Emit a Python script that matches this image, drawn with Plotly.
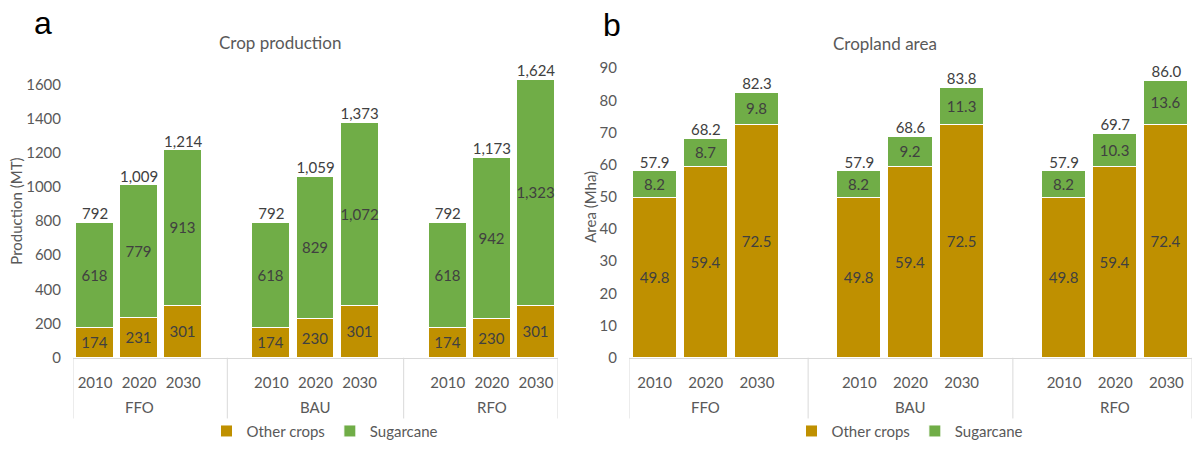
import plotly.graph_objects as go

# ---------------- data ----------------
scenarios = ["FFO", "BAU", "RFO"]
years = ["2010", "2020", "2030"]

prod_other = [174, 231, 301, 174, 230, 301, 174, 230, 301]
prod_sugar = [618, 779, 913, 618, 829, 1072, 618, 942, 1323]
prod_total = [792, 1009, 1214, 792, 1059, 1373, 792, 1173, 1624]

area_other = [49.8, 59.4, 72.5, 49.8, 59.4, 72.5, 49.8, 59.4, 72.4]
area_sugar = [8.2, 8.7, 9.8, 8.2, 9.2, 11.3, 8.2, 10.3, 13.6]
area_total = [57.9, 68.2, 82.3, 57.9, 68.6, 83.8, 57.9, 69.7, 86.0]

prod_ticks = [0, 200, 400, 600, 800, 1000, 1200, 1400, 1600]
area_ticks = [0, 10, 20, 30, 40, 50, 60, 70, 80, 90]

# ---------------- style ----------------
C_OTHER = "#BF9000"
C_SUGAR = "#70AD47"
FONT = "Lato"
TXT = "#404040"
AX = "#595959"
LINE = "#D9D9D9"
FS = 15
W, H = 1192, 450

def py(p):  # pixel y (from top) -> paper fraction
    return (H - p) / H

def px(p):
    return p / W

# category positions: a blank slot between scenario groups
pos = [g * 4 + i for g in range(len(scenarios)) for i in range(len(years))]
xlabels = [y for _ in scenarios for y in years]
group_centers = [g * 4 + 1 for g in range(len(scenarios))]
dividers = [-0.5] + [g * 4 - 1 for g in range(1, len(scenarios))] + [pos[-1] + 0.5]

fig = go.Figure()

def add_panel(other, sugar, total, xa, ya, legend, fmt):
    fig.add_trace(go.Bar(
        x=pos, y=other, name="Other crops", marker=dict(color=C_OTHER, line=dict(color="white", width=1)),
        width=0.86, text=other, texttemplate="%{y:" + fmt + "}", textposition="inside",
        insidetextanchor="middle", textangle=0, constraintext="none",
        textfont=dict(family=FONT, size=FS, color=TXT),
        xaxis=xa, yaxis=ya, legend=legend, showlegend=True))
    fig.add_trace(go.Bar(
        x=pos, y=sugar, name="Sugarcane", marker=dict(color=C_SUGAR, line=dict(color="white", width=1)),
        width=0.86, text=sugar, texttemplate="%{y:" + fmt + "}", textposition="inside",
        insidetextanchor="middle", textangle=0, constraintext="none",
        textfont=dict(family=FONT, size=FS, color=TXT),
        xaxis=xa, yaxis=ya, legend=legend, showlegend=True))
    fig.add_trace(go.Scatter(
        x=pos, y=total, mode="text", text=total, texttemplate="%{y:" + fmt + "}",
        textposition="top center", textfont=dict(family=FONT, size=FS, color=TXT),
        xaxis=xa, yaxis=ya, showlegend=False, hoverinfo="skip", cliponaxis=False))

add_panel(prod_other, prod_sugar, prod_total, "x", "y", "legend", ",")
add_panel(area_other, area_sugar, area_total, "x2", "y2", "legend2", ".1f")

y_bottom = py(364)
y_top = py(60)

common_x = dict(range=[-0.5, pos[-1] + 0.5], tickmode="array", tickvals=pos, ticktext=xlabels,
                showline=True, linecolor=LINE, linewidth=1, ticks="", showgrid=False, zeroline=False,
                tickfont=dict(family=FONT, size=FS, color=AX), ticklabelstandoff=11, fixedrange=True)
common_y = dict(showgrid=False, zeroline=False, showline=False, ticks="", tickmode="array",
                tickfont=dict(family=FONT, size=FS, color=AX), ticklabelstandoff=11)

leg = dict(orientation="h", xanchor="center", y=py(439), yanchor="middle", traceorder="normal",
           font=dict(family=FONT, size=FS, color=AX), itemwidth=30, bgcolor="rgba(0,0,0,0)")

fig.update_layout(
    width=W, height=H, barmode="stack", bargap=0,
    margin=dict(l=0, r=0, t=0, b=0),
    paper_bgcolor="white", plot_bgcolor="white",
    font=dict(family=FONT, color=AX),
    xaxis=dict(domain=[px(73), px(558)], anchor="y", **common_x),
    yaxis=dict(domain=[y_bottom, y_top], anchor="x", range=[0, 304 / (279 / 1600)],
               tickvals=prod_ticks, **common_y),
    xaxis2=dict(domain=[px(629), px(1192)], anchor="y2", **common_x),
    yaxis2=dict(domain=[y_bottom, y_top], anchor="x2", range=[0, 304 / (282.3 / 86.0)],
                tickvals=area_ticks, **common_y),
    legend=dict(x=px(325), **leg),
    legend2=dict(x=px(910), **leg),
)

annotations = []
shapes = []
for xa, ya in [("x", "y"), ("x2", "y2")]:
    for g, c in enumerate(group_centers):
        annotations.append(dict(x=c, y=py(414), xref=xa, yref="paper", text=scenarios[g], showarrow=False,
                                font=dict(family=FONT, size=FS, color=AX), xanchor="center", yanchor="middle"))
    for d in dividers:
        shapes.append(dict(type="line", xref=xa, yref="paper", x0=d, x1=d, y0=py(364), y1=py(426),
                           line=dict(color=LINE, width=1)))

annotations += [
    dict(x=px(280), y=py(42), xref="paper", yref="paper", text="Crop production", showarrow=False,
         font=dict(family=FONT, size=17, color=AX), xanchor="center", yanchor="middle"),
    dict(x=px(885), y=py(43), xref="paper", yref="paper", text="Cropland area", showarrow=False,
         font=dict(family=FONT, size=17, color=AX), xanchor="center", yanchor="middle"),
    dict(x=px(43), y=py(22), xref="paper", yref="paper", text="a", showarrow=False,
         font=dict(family="Liberation Sans", size=32, color="black"), xanchor="center", yanchor="middle"),
    dict(x=px(612), y=py(24), xref="paper", yref="paper", text="b", showarrow=False,
         font=dict(family="Liberation Sans", size=32, color="black"), xanchor="center", yanchor="middle"),
    dict(x=px(16), y=py(215), xref="paper", yref="paper", text="Production (MT)", showarrow=False, textangle=-90,
         font=dict(family=FONT, size=FS, color=AX), xanchor="center", yanchor="middle"),
    dict(x=px(590), y=py(210), xref="paper", yref="paper", text="Area (Mha)", showarrow=False, textangle=-90,
         font=dict(family=FONT, size=FS, color=AX), xanchor="center", yanchor="middle"),
]
fig.update_layout(annotations=annotations, shapes=shapes)

fig.write_html("out.html", config={"displayModeBar": False})
